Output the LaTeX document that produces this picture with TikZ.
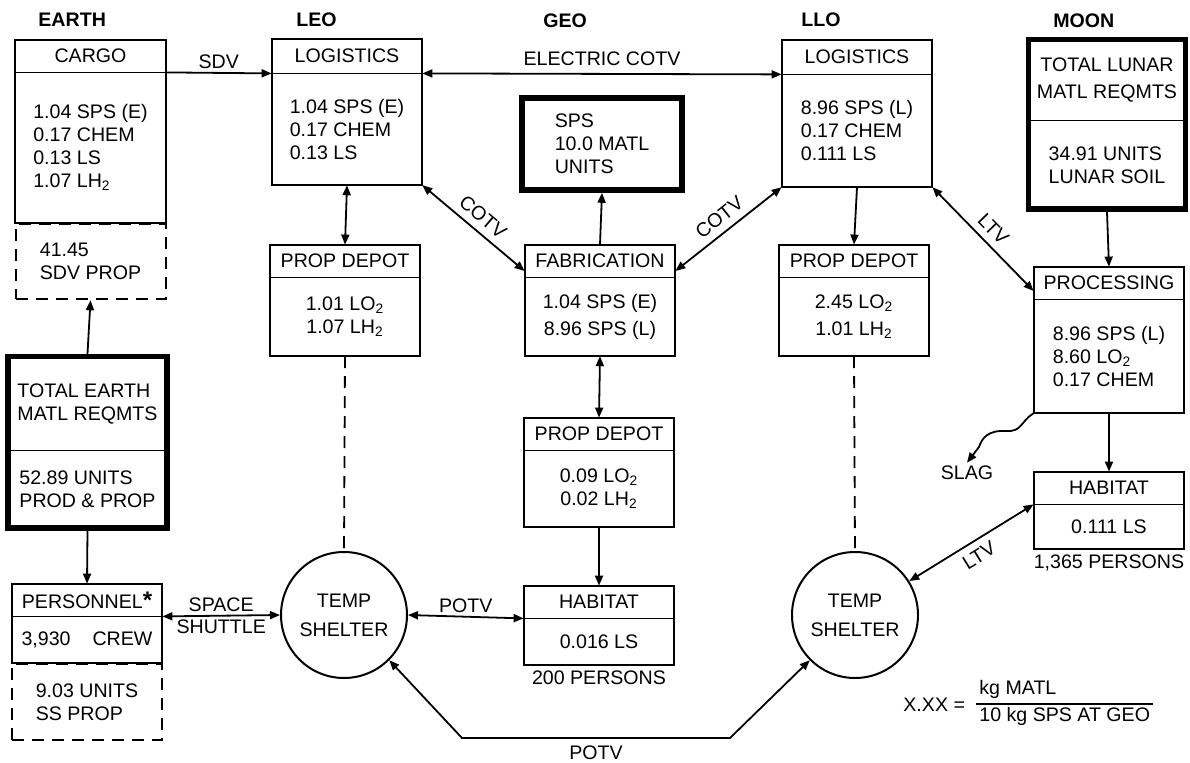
\documentclass[tikz,border=0pt]{standalone}
\usepackage{fontspec}
\setmainfont{Liberation Sans}
\usetikzlibrary{arrows.meta,positioning,fit,calc}
\newcommand{\diafont}{\fontsize{9.8}{11.5}\selectfont}

\begin{document}
\begin{tikzpicture}[
  x=0.5pt, y=-0.5pt,
  hdr/.style={minimum width=75pt, minimum height=16pt, inner sep=0pt, font=\diafont},
  bdy/.style={minimum width=75pt, inner sep=0pt, align=left, font=\diafont},
  dashbox/.style={draw, dash pattern=on 6pt off 4pt, line width=1pt,
    minimum width=75pt, inner sep=0pt, align=left, font=\diafont},
  halfbox/.style={minimum width=79pt, inner sep=0pt, align=left, font=\diafont},
  thickframe/.style={draw, line width=2.8pt, inner sep=0pt},
  boxline/.style={line width=1pt},
  sepline/.style={line width=0.6pt},
  shelter/.style={circle, draw, line width=1pt, minimum size=63pt,
    inner sep=0pt, align=center, font=\diafont},
  zone/.style={font=\diafont\bfseries, inner sep=0pt},
  lbl/.style={font=\diafont, inner sep=1.5pt},
  flow/.style={line width=0.9pt, -{Triangle[length=5pt,width=4pt]}},
  twoway/.style={line width=0.9pt,
    {Triangle[length=5pt,width=4pt]}-{Triangle[length=5pt,width=4pt]}},
  tether/.style={line width=0.9pt, dash pattern=on 6pt off 4pt}
]
\useasboundingbox (0,0) rectangle (1190,762);

% Orbit headings
\node[zone, anchor=west] (earth) at (38,20) {EARTH};
\node[zone, anchor=west] (leo) at (296,20) {LEO};
\node[zone, anchor=west] (geo) at (543,21) {GEO};
\node[zone, anchor=west] (llo) at (801,20) {LLO};
\node[zone, anchor=west] (moon) at (1053,21) {MOON};

% Earth
\node[hdr] (cargo) at (90.5,56) {CARGO};
\node[bdy, minimum height=75pt, below=0pt of cargo] (cargo-b)
  {1.04 SPS (E)\\0.17 CHEM\\0.13 LS\\1.07 LH\textsubscript{2}};
\node[dashbox, minimum height=37.5pt, below=0pt of cargo-b] (sdvprop) {41.45\\SDV PROP};

\node[halfbox, minimum height=46.5pt] (etop) at (87.5,403.5) {TOTAL EARTH\\MATL REQMTS};
\node[halfbox, minimum height=38.5pt, below=0pt of etop] (ebot) {52.89 UNITS\\PROD \& PROP};
\node[thickframe, fit=(etop)(ebot)] (total) {};
\draw[sepline] (etop.south west) -- (etop.south east);

\node[hdr] (pers) at (87,600) {PERSONNEL{\large\bfseries *}};
\node[bdy, minimum height=23pt, below=0pt of pers] (pers-b) {3,930\hspace{11pt}CREW};
\node[dashbox, minimum height=38pt, below=0pt of pers-b] (ssprop) {9.03 UNITS\\SS PROP};

% LEO
\node[hdr, minimum height=17pt] (leolog) at (347,56) {LOGISTICS};
\node[bdy, minimum height=55.5pt, below=0pt of leolog] (leolog-b)
  {1.04 SPS (E)\\0.17 CHEM\\0.13 LS};
\node[hdr] (leoprop) at (345,261) {PROP DEPOT};
\node[bdy, minimum height=39pt, align=center, below=0pt of leoprop] (leoprop-b)
  {1.01 LO\textsubscript{2}\\1.07 LH\textsubscript{2}};
\node[shelter] (ts1) at (344,615) {TEMP\\[3pt]SHELTER};

% GEO
\node[thickframe, minimum width=80pt, minimum height=46pt, align=left, font=\diafont]
  (sps) at (602,144) {SPS\\10.0 MATL\\UNITS};
\node[hdr] (fab) at (600,261) {FABRICATION};
\node[bdy, minimum height=39pt, align=center, below=0pt of fab] (fab-b)
  {1.04 SPS (E)\\[2pt]8.96 SPS (L)};
\node[hdr] (geoprop) at (599,434) {PROP DEPOT};
\node[bdy, minimum height=38pt, align=center, below=0pt of geoprop] (geoprop-b)
  {0.09 LO\textsubscript{2}\\0.02 LH\textsubscript{2}};
\node[hdr] (geohab) at (599,602) {HABITAT};
\node[bdy, minimum height=23pt, align=center, below=0pt of geohab] (geohab-b) {0.016 LS};
\node[lbl, below=1pt of geohab-b] (geocrew) {200 PERSONS};

% LLO
\node[hdr, minimum height=17pt] (llolog) at (857,57) {LOGISTICS};
\node[bdy, minimum height=56pt, below=0pt of llolog] (llolog-b)
  {8.96 SPS (L)\\0.17 CHEM\\0.111 LS};
\node[hdr] (lloprop) at (854,261) {PROP DEPOT};
\node[bdy, minimum height=39pt, align=center, below=0pt of lloprop] (lloprop-b)
  {2.45 LO\textsubscript{2}\\[2pt]1.01 LH\textsubscript{2}};
\node[shelter] (ts2) at (855,615) {TEMP\\[3pt]SHELTER};

% Moon
\node[halfbox, minimum width=78pt, minimum height=40pt, align=center] (mtop) at (1107,80)
  {TOTAL LUNAR\\[2pt]MATL REQMTS};
\node[halfbox, minimum width=78pt, minimum height=44pt, below=0pt of mtop] (mbot)
  {34.91 UNITS\\LUNAR SOIL};
\node[thickframe, fit=(mtop)(mbot)] (lunar) {};
\draw[sepline] (mtop.south west) -- (mtop.south east);
\node[hdr] (proc) at (1109,283) {PROCESSING};
\node[bdy, minimum height=56.5pt, below=0pt of proc] (proc-b)
  {8.96 SPS (L)\\8.60 LO\textsubscript{2}\\0.17 CHEM};
\node[hdr] (mhab) at (1109,488) {HABITAT};
\node[bdy, minimum height=22pt, align=center, below=0pt of mhab] (mhab-b) {0.111 LS};
\node[lbl, below=1pt of mhab-b] (mooncrew) {1,365 PERSONS};
\node[lbl] (slag) at (967,473) {SLAG};

% Key
\node[lbl, anchor=west] (key) at (900,705) {X.XX =};
\node[lbl, anchor=south west] (keynum) at (976,702) {kg MATL};
\node[lbl, anchor=north west] (keyden) at (976,704) {10 kg SPS AT GEO};
\draw[line width=1.4pt] (keyden.north west) -- (keyden.north east);

% Box frames
\foreach \n in {cargo,pers,leolog,leoprop,fab,geoprop,geohab,llolog,lloprop,proc,mhab}{
  \draw[boxline] (\n.north west) rectangle (\n-b.south east);
  \draw[sepline] (\n.south west) -- (\n.south east);
}

% Transfers
\draw[flow] (cargo.south east) -- node[lbl, above]{SDV} (leolog.south west);
\draw[twoway] (leolog.south east) -- node[lbl, above=2pt]{ELECTRIC COTV} (llolog.south west);
\draw[twoway] (leolog-b.south east) -- node[lbl, sloped, above=2pt]{COTV} ([yshift=-5pt]fab.west);
\draw[twoway] ([yshift=-5pt]fab.east) -- node[lbl, sloped, above=2pt]{COTV} (llolog-b.south west);
\draw[twoway] (llolog-b.south east) -- node[lbl, sloped, above=2pt]{LTV} ([yshift=-4pt]proc.west);
\draw[twoway] (leolog-b.south) -- (leoprop.north);
\draw[flow] (fab.north) -- (sps.south);
\draw[twoway] (fab-b.south) -- (geoprop.north);
\draw[flow] (geoprop-b.south) -- (geohab.north);
\draw[flow] (llolog-b.south) -- (lloprop.north);
\draw[flow] (lunar.south) -- (proc.north);
\draw[flow] (proc-b.south) -- (mhab.north);
\draw[flow] (total.north) -- (sdvprop.south);
\draw[flow] (total.south) -- (pers.north);
\draw[twoway] (pers.south east) -- node[lbl, above]{SPACE} node[lbl, below]{SHUTTLE} (ts1.west);
\draw[twoway] (ts1.east) -- node[lbl, above]{POTV} (geohab.south west);
\draw[tether] (leoprop-b.south) -- (ts1.north);
\draw[tether] (lloprop-b.south) -- (ts2.north);
\draw[twoway] (ts2.32) -- node[lbl, sloped, below=2pt]{LTV} (mhab.south west);
\coordinate (potvl) at (462,738);
\coordinate (potvr) at (730,738);
\draw[twoway] (ts1.-45) -- (potvl) -- node[lbl, below=2pt]{POTV} (potvr) -- (ts2.-135);
\draw[flow] (proc-b.south west) .. controls (1020,422) and (1022,432) .. (1006,431)
  .. controls (988,430) and (982,438) .. (979,447) -- (slag.north);

\end{tikzpicture}
\end{document}
